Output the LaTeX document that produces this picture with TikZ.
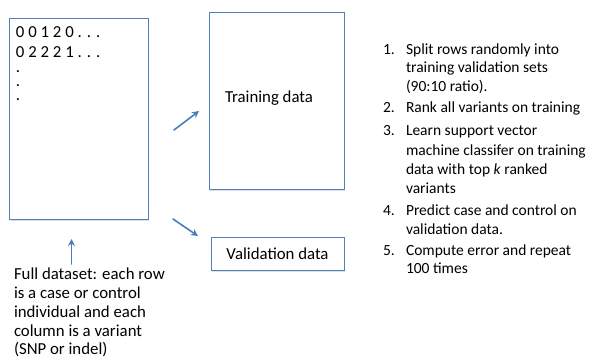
\documentclass[tikz,border=0pt]{standalone}
\usepackage{fontspec}
\setmainfont{Carlito}
\usetikzlibrary{arrows.meta,shadows}
\definecolor{boxblue}{RGB}{79,129,189}
\definecolor{arrowblue}{RGB}{74,126,187}
\begin{document}
\begin{tikzpicture}[x=1pt,y=-1pt,
  font=\fontsize{16.8}{19}\selectfont,
  databox/.style={draw=boxblue, line width=1pt, fill=white, inner sep=0pt,
    drop shadow={shadow xshift=0.8pt, shadow yshift=-1.5pt, opacity=0.25}},
  txt/.style={anchor=base west, inner sep=0pt, outer sep=0pt},
  steptxt/.style={txt, font=\fontsize{15.5}{18}\selectfont},
  flow/.style={draw=arrowblue, line width=1.6pt, line cap=round,
    -{Stealth[length=7pt,width=7pt]}}]
\useasboundingbox (0,0) rectangle (605,362);

% boxes
\node[databox, anchor=north west, minimum width=139pt, minimum height=201pt] (full) at (9,18) {};
\node[databox, anchor=north west, minimum width=135pt, minimum height=177pt] (train) at (209,12) {};
\node[databox, minimum width=133pt, minimum height=33pt] (valid) at (277.5,253.5) {Validation data};

% data rows
\node[inner sep=0pt, outer sep=0pt, anchor=north west, align=left,
      font=\fontsize{16.8}{20}\selectfont] (rows) at (16,26.4)
  {0 0 1 2 0 . . .\\0 2 2 2 1 . . .\\[-5pt].\\[-6pt].\\[-6pt].};

\node[txt] (trainlabel) at (225,102) {Training data};

% arrows
\coordinate (upS) at (71.5,264);
\coordinate (upE) at (71.5,239);
\coordinate (trS) at (174,130);
\coordinate (trE) at (199,111);
\coordinate (vaS) at (173,219);
\coordinate (vaE) at (198,236);
\draw[flow] (upS) -- (upE);
\draw[flow] (trS) -- (trE);
\draw[flow] (vaS) -- (vaE);

% full dataset description
\node[txt] (d1) at (14,279) {Full dataset: each row};
\node[txt] (d2) at (14,298) {is a case or control};
\node[txt] (d3) at (14,317) {individual and each};
\node[txt] (d4) at (14,336) {column is a variant};
\node[txt] (d5) at (14,354) {(SNP or indel)};

% steps
\node[steptxt] (n1) at (383,54) {1.};
\node[steptxt] (s1a) at (406,54) {Split rows randomly into};
\node[steptxt] (s1b) at (406,72) {training validation sets};
\node[steptxt] (s1c) at (406,91) {(90:10 ratio).};
\node[steptxt] (n2) at (383,112) {2.};
\node[steptxt] (s2a) at (406,112) {Rank all variants on training};
\node[steptxt] (n3) at (383,135) {3.};
\node[steptxt] (s3a) at (406,135) {Learn support vector};
\node[steptxt] (s3b) at (406,155) {machine classifer on training};
\node[steptxt] (s3c) at (406,174) {data with top \textit{k} ranked};
\node[steptxt] (s3d) at (406,193) {variants};
\node[steptxt] (n4) at (383,215) {4.};
\node[steptxt] (s4a) at (406,215) {Predict case and control on};
\node[steptxt] (s4b) at (406,234) {validation data.};
\node[steptxt] (n5) at (383,255) {5.};
\node[steptxt] (s5a) at (406,255) {Compute error and repeat};
\node[steptxt] (s5b) at (406,273) {100 times};
\end{tikzpicture}
\end{document}
